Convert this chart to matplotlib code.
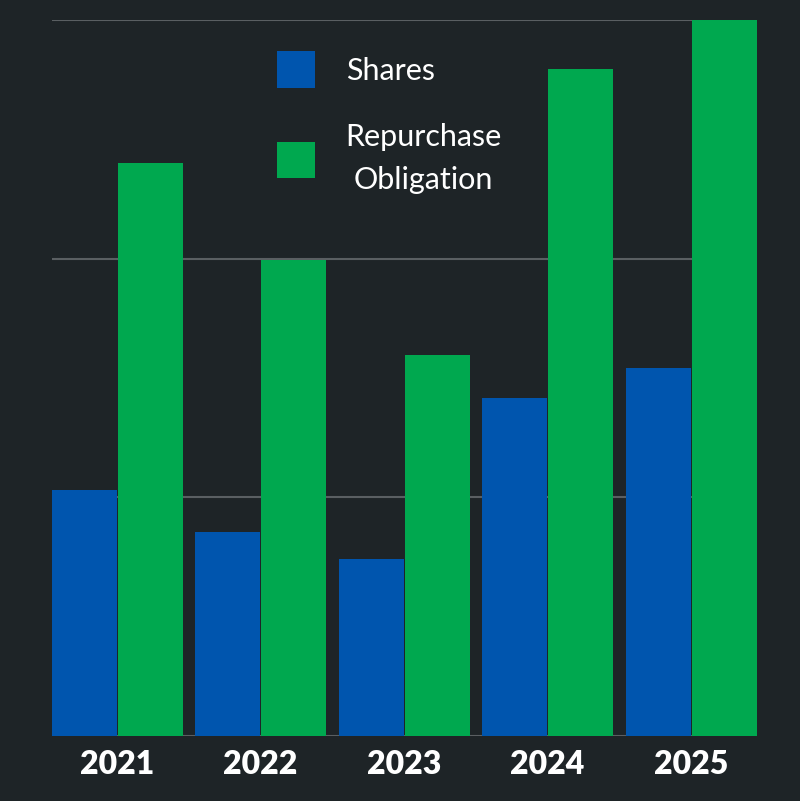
import matplotlib.pyplot as plt
import numpy as np

years = ["2021", "2022", "2023", "2024", "2025"]
shares = [1.03, 0.855, 0.74, 1.415, 1.54]
repurchase = [2.40, 1.995, 1.595, 2.795, 3.0]

bg = '#1e2427'
blue = '#0055ae'
green = '#00a84f'

fig = plt.figure(figsize=(8, 8.01), dpi=100)
fig.set_facecolor(bg)
ax = fig.add_axes([0.065, 0.0811, 0.881, 0.8939])
ax.set_facecolor(bg)

x = np.arange(len(years))
w = 0.453
b1 = ax.bar(x - w / 2, shares, w, color=blue, label='Shares', zorder=3)
b2 = ax.bar(x + w / 2 + 0.005, repurchase, w, color=green, label='Repurchase\nObligation', zorder=3)

ax.set_xlim(-0.453, 4.46)
ax.set_ylim(0, 3.0)
ax.set_yticks([0, 1, 2, 3])
ax.yaxis.grid(True, color='#5a5f62', linewidth=1.5, zorder=0)
ax.tick_params(axis='y', length=0, labelleft=False)
ax.tick_params(axis='x', length=0, pad=10)
ax.set_xticks(x)
ax.set_xticklabels(years, color='white', fontsize=23, fontweight='heavy', family='Lato')
for s in ax.spines.values():
    s.set_visible(False)

leg = ax.legend(loc='upper left', bbox_to_anchor=(0.28, 0.995), frameon=False,
                prop={'family': 'Lato', 'size': 22}, labelcolor='white',
                handlelength=1.25, handleheight=1.48, handletextpad=1.0,
                labelspacing=1.15)
for t in leg.get_texts():
    t.set_multialignment('center')
    t.set_linespacing(1.65)

fig.savefig('out.png', facecolor=bg)
